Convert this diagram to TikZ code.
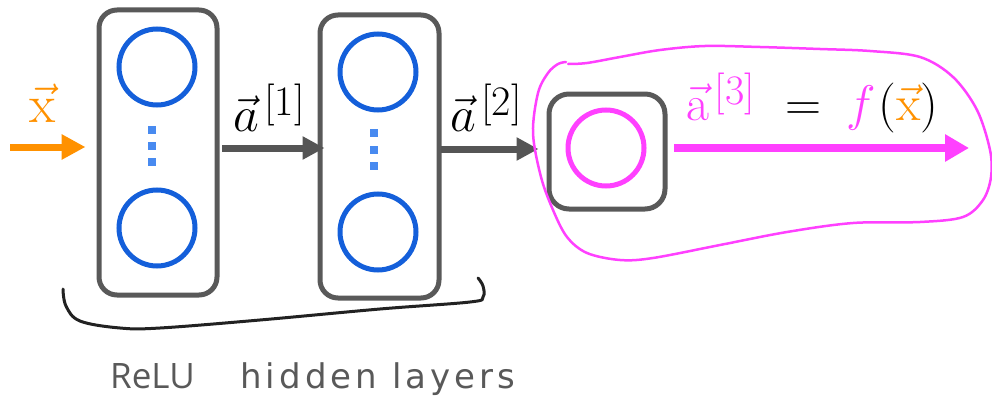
\RequirePackage{fix-cm}
\documentclass[tikz,border=0pt]{standalone}
\usepackage{fontspec}
\usetikzlibrary{arrows.meta,calc}
\newfontfamily\relufont{Open Sans}
\newfontfamily\handfont[LetterSpace=12]{DejaVu Sans}
\definecolor{boxgray}{RGB}{89,89,89}
\definecolor{arrgray}{RGB}{85,85,85}
\definecolor{nblue}{RGB}{20,95,218}
\definecolor{dotblue}{RGB}{72,138,240}
\definecolor{mag}{RGB}{255,64,255}
\definecolor{xorange}{RGB}{255,145,0}
\definecolor{inkblack}{RGB}{34,34,34}
\newcommand{\supbr}[1]{\mskip2mu\raisebox{16pt}{\fontsize{42}{42}\selectfont[#1]}}
\tikzset{
  layerbox/.style={draw=boxgray, line width=5pt, rounded corners=18pt, inner sep=0pt},
  neuron/.style={circle, draw=nblue, line width=5pt, minimum size=76pt, inner sep=0pt},
  outneuron/.style={circle, draw=mag, line width=5pt, minimum size=76pt, inner sep=0pt},
  vdot/.style={fill=dotblue, minimum size=8pt, inner sep=0pt},
  grayarrow/.style={draw=arrgray, line width=7pt, -{Triangle[length=22pt,width=22pt]}},
  lbl/.style={inner sep=0pt, font=\fontsize{50}{56}\selectfont},
}
\begin{document}
\begin{tikzpicture}[x=1pt,y=-1pt]
\useasboundingbox (0,0) rectangle (992,396);
% layer boxes
\node[layerbox, minimum width=118pt, minimum height=285pt] (L1) at (158,152.5) {};
\node[layerbox, minimum width=119pt, minimum height=283pt] (L2) at (379.5,156.5) {};
\node[layerbox, minimum width=116pt, minimum height=115pt, rounded corners=20pt] (L3) at (607,151.5) {};
% neurons
\node[neuron] (n11) at (157,67) {};
\node[neuron] (n12) at (157,228) {};
\node[neuron] (n21) at (378,72) {};
\node[neuron] (n22) at (378,232) {};
\node[outneuron] (n31) at (606,148) {};
% dots
\node[vdot] (d11) at (152,130) {};
\node[vdot] (d12) at (152,146) {};
\node[vdot] (d13) at (152,162) {};
\node[vdot] (d21) at (374,133) {};
\node[vdot] (d22) at (374,150) {};
\node[vdot] (d23) at (374,166) {};
% arrows
\coordinate (xin) at (10,147);
\draw[draw=xorange, line width=7pt, -{Triangle[length=24pt,width=24pt]}, shorten >=11pt] (xin) -- (xin -| L1.west);
\coordinate (a1s) at (222,148);
\draw[grayarrow, shorten >=-7pt] (a1s) -- (a1s -| L2.west);
\coordinate (a2s) at (441,149);
\draw[grayarrow, shorten >=8pt] (a2s) -- (a2s -| L3.west);
\coordinate (a3s) at (674,148);
\coordinate (a3e) at (969,148);
\draw[draw=mag, line width=8pt, -{Triangle[length=24pt,width=26pt]}] (a3s) -- (a3e);
% labels
\node[lbl, anchor=base, text=xorange, font=\fontsize{54}{60}\selectfont] (xlab) at (43,122) {$\vec{\mathrm{x}}$};
\node[lbl, anchor=base west] (a1lab) at (233,131) {$\vec{a}\supbr{1}$};
\node[lbl, anchor=base west] (a2lab) at (450,131) {$\vec{a}\supbr{2}$};
\node[lbl, anchor=base west] (a3lab) at (686,120) {$\color{mag}\vec{\mathrm{a}}\supbr{3}\color{black}\mskip6mu = \mskip4mu{\color{mag}f}\mskip1mu(\color{xorange}\vec{\mathrm{x}}\color{black})$};
% magenta hand-drawn loop
\draw[mag, line width=2.5pt, line cap=round, line join=round] plot[smooth, tension=0.55] coordinates {
 (568,64) (587,63) (620,57) (660,50) (705,46) (760,47) (820,49) (870,51) (920,57) (953,77) (977,110) (990,150) (991,177) (983,200) (963,217) (920,222) (853,223) (787,232) (720,245) (653,258) (620,260) (587,253) (567,237) (553,210) (541,177) (533,133) (538,93) (548,73) (558,64) (566,62)};
% black brace
\draw[inkblack, line width=3pt, line cap=round, line join=round] plot[smooth, tension=0.6] coordinates {
 (63,289) (66,306) (80,321) (120,328) (160,328) (260,320) (380,309) (470,302) (483,297) (483,286) (478,278)};
% bottom text
\node[anchor=base west, inner sep=0pt, text=boxgray, font=\relufont\fontsize{35}{40}\selectfont] (relu) at (110,388) {ReLU};
\node[anchor=base west, inner sep=0pt, text=boxgray, font=\handfont\fontsize{34}{40}\selectfont] (hid) at (240,388) {hidden layers};
\end{tikzpicture}
\end{document}
